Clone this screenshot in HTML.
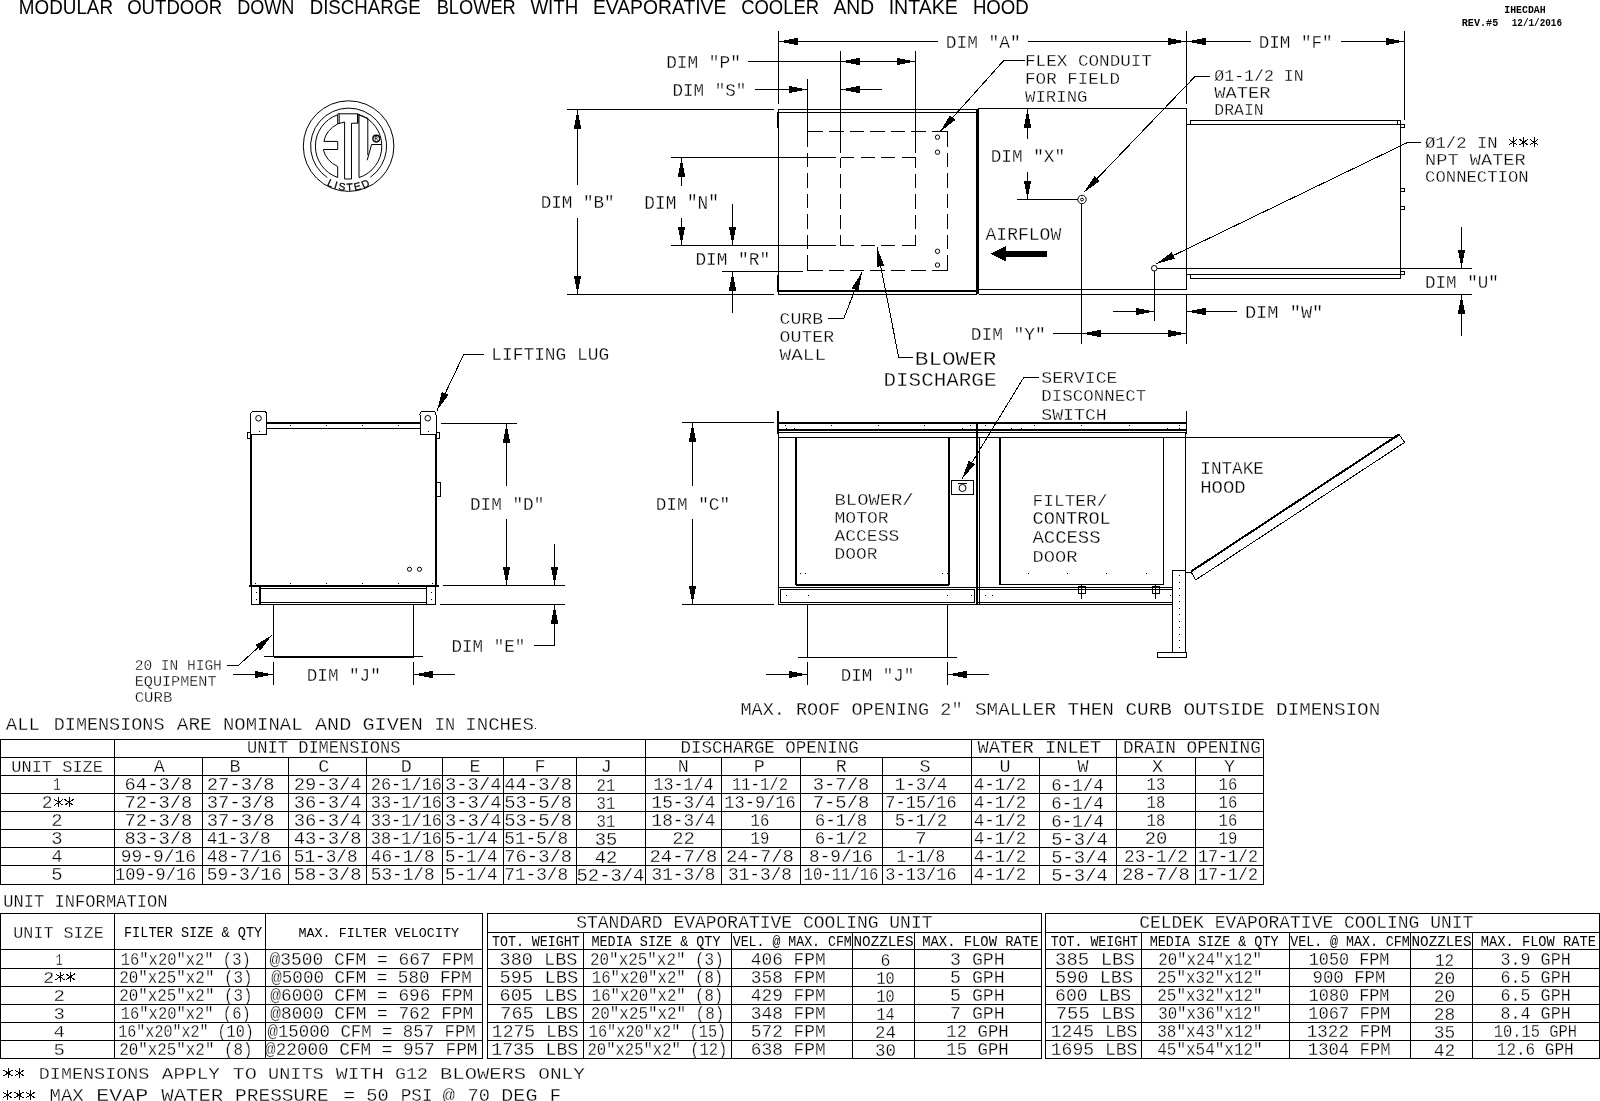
<!DOCTYPE html>
<html><head><meta charset="utf-8"><title>IHECDAH</title>
<style>
html,body{margin:0;padding:0;background:#fff;}
body{width:1600px;height:1101px;overflow:hidden;}
svg{display:block;filter:grayscale(1);}
.m{font-family:"Liberation Mono",monospace;}
.s{font-family:"Liberation Sans",sans-serif;}
</style></head><body>
<svg width="1600" height="1101" viewBox="0 0 1600 1101">
<rect width="1600" height="1101" fill="#fff"/>
<g fill="#000" stroke="#fff" stroke-width="0.3">
<text lengthAdjust="spacingAndGlyphs" class="s" x="18.87" y="13.7" font-size="20.64" textLength="94.15" stroke="none">MODULAR</text>
<text lengthAdjust="spacingAndGlyphs" class="s" x="127.17" y="13.7" font-size="20.64" textLength="95.05" stroke="none">OUTDOOR</text>
<text lengthAdjust="spacingAndGlyphs" class="s" x="237.17" y="13.7" font-size="20.64" textLength="57.25" stroke="none">DOWN</text>
<text lengthAdjust="spacingAndGlyphs" class="s" x="309.67" y="13.7" font-size="20.64" textLength="111.15" stroke="none">DISCHARGE</text>
<text lengthAdjust="spacingAndGlyphs" class="s" x="436.67" y="13.7" font-size="20.64" textLength="79.15" stroke="none">BLOWER</text>
<text lengthAdjust="spacingAndGlyphs" class="s" x="530.42" y="13.7" font-size="20.64" textLength="47.9" stroke="none">WITH</text>
<text lengthAdjust="spacingAndGlyphs" class="s" x="592.92" y="13.7" font-size="20.64" textLength="133.4" stroke="none">EVAPORATIVE</text>
<text lengthAdjust="spacingAndGlyphs" class="s" x="741.17" y="13.7" font-size="20.64" textLength="77.9" stroke="none">COOLER</text>
<text lengthAdjust="spacingAndGlyphs" class="s" x="833.42" y="13.7" font-size="20.64" textLength="40.65" stroke="none">AND</text>
<text lengthAdjust="spacingAndGlyphs" class="s" x="888.67" y="13.7" font-size="20.64" textLength="69.15" stroke="none">INTAKE</text>
<text lengthAdjust="spacingAndGlyphs" class="s" x="972.92" y="13.7" font-size="20.64" textLength="55.9" stroke="none">HOOD</text>
<text lengthAdjust="spacingAndGlyphs" class="m" x="1504.3" y="12.5" font-size="10.02" textLength="41.4" font-weight="bold" stroke="none">IHECDAH</text>
<text lengthAdjust="spacingAndGlyphs" class="m" x="1461.76" y="25.75" font-size="10.63" textLength="36.49" font-weight="bold" stroke="none">REV.#5</text>
<text lengthAdjust="spacingAndGlyphs" class="m" x="1511.76" y="25.75" font-size="10.63" textLength="50.24" font-weight="bold" stroke="none">12/1/2016</text>
<text lengthAdjust="spacingAndGlyphs" class="m" x="945.67" y="47.5" font-size="18.98" textLength="75.16">DIM "A"</text>
<text lengthAdjust="spacingAndGlyphs" class="m" x="1258.67" y="47.5" font-size="18.98" textLength="73.91">DIM "F"</text>
<text lengthAdjust="spacingAndGlyphs" class="m" x="666.17" y="67.5" font-size="18.98" textLength="74.66">DIM "P"</text>
<text lengthAdjust="spacingAndGlyphs" class="m" x="672.42" y="95.75" font-size="18.98" textLength="73.91">DIM "S"</text>
<text lengthAdjust="spacingAndGlyphs" class="m" x="540.67" y="207.5" font-size="18.98" textLength="73.91">DIM "B"</text>
<text lengthAdjust="spacingAndGlyphs" class="m" x="644.37" y="208.75" font-size="19.74" textLength="74.51">DIM "N"</text>
<text lengthAdjust="spacingAndGlyphs" class="m" x="695.42" y="265" font-size="18.98" textLength="74.66">DIM "R"</text>
<text lengthAdjust="spacingAndGlyphs" class="m" x="1025.05" y="66.25" font-size="17.08" textLength="126.89">FLEX CONDUIT</text>
<text lengthAdjust="spacingAndGlyphs" class="m" x="1025.05" y="83.75" font-size="17.08" textLength="94.89">FOR FIELD</text>
<text lengthAdjust="spacingAndGlyphs" class="m" x="1025.05" y="102" font-size="17.08" textLength="62.39">WIRING</text>
<text lengthAdjust="spacingAndGlyphs" class="m" x="990.67" y="161.75" font-size="18.98" textLength="74.41">DIM "X"</text>
<text lengthAdjust="spacingAndGlyphs" class="m" x="1214.3" y="81.25" font-size="17.08" textLength="89.39">Ø1-1/2 IN</text>
<text lengthAdjust="spacingAndGlyphs" class="m" x="1214.38" y="97.5" font-size="15.94" textLength="56.23">WATER</text>
<text lengthAdjust="spacingAndGlyphs" class="m" x="1214.38" y="115" font-size="15.94" textLength="49.23">DRAIN</text>
<text lengthAdjust="spacingAndGlyphs" class="m" x="985.5" y="240" font-size="17.84" textLength="75.75">AIRFLOW</text>
<text lengthAdjust="spacingAndGlyphs" class="m" x="1425.11" y="147.5" font-size="16.32" textLength="72.48">Ø1/2 IN</text>
<text lengthAdjust="spacingAndGlyphs" class="m" x="1425.05" y="164.5" font-size="17.08" textLength="100.64">NPT WATER</text>
<text lengthAdjust="spacingAndGlyphs" class="m" x="1425.05" y="182" font-size="17.08" textLength="103.64">CONNECTION</text>
<text lengthAdjust="spacingAndGlyphs" class="m" x="1424.97" y="287.5" font-size="18.22" textLength="73.8">DIM "U"</text>
<text lengthAdjust="spacingAndGlyphs" class="m" x="1244.92" y="317.5" font-size="18.98" textLength="78.41">DIM "W"</text>
<text lengthAdjust="spacingAndGlyphs" class="m" x="970.67" y="340" font-size="18.98" textLength="75.16">DIM "Y"</text>
<text lengthAdjust="spacingAndGlyphs" class="m" x="779.63" y="323.75" font-size="15.94" textLength="43.48">CURB</text>
<text lengthAdjust="spacingAndGlyphs" class="m" x="779.61" y="342" font-size="16.32" textLength="54.53">OUTER</text>
<text lengthAdjust="spacingAndGlyphs" class="m" x="779.61" y="360" font-size="16.32" textLength="46.53">WALL</text>
<text lengthAdjust="spacingAndGlyphs" class="m" x="914.79" y="365" font-size="20.87" textLength="81.67">BLOWER</text>
<text lengthAdjust="spacingAndGlyphs" class="m" x="883.54" y="385.75" font-size="20.87" textLength="112.92">DISCHARGE</text>
<text lengthAdjust="spacingAndGlyphs" class="m" x="1041.33" y="383" font-size="16.7" textLength="76.09">SERVICE</text>
<text lengthAdjust="spacingAndGlyphs" class="m" x="1041.3" y="401.25" font-size="17.08" textLength="104.89">DISCONNECT</text>
<text lengthAdjust="spacingAndGlyphs" class="m" x="1041.3" y="419.5" font-size="17.08" textLength="65.39">SWITCH</text>
<text lengthAdjust="spacingAndGlyphs" class="m" x="1200.28" y="473.75" font-size="17.46" textLength="63.69">INTAKE</text>
<text lengthAdjust="spacingAndGlyphs" class="m" x="1200.28" y="492.5" font-size="17.46" textLength="45.44">HOOD</text>
<text lengthAdjust="spacingAndGlyphs" class="m" x="834.55" y="505" font-size="17.08" textLength="79.14">BLOWER/</text>
<text lengthAdjust="spacingAndGlyphs" class="m" x="834.55" y="523" font-size="17.08" textLength="54.14">MOTOR</text>
<text lengthAdjust="spacingAndGlyphs" class="m" x="834.55" y="541.25" font-size="17.08" textLength="64.64">ACCESS</text>
<text lengthAdjust="spacingAndGlyphs" class="m" x="834.58" y="559.25" font-size="16.7" textLength="42.84">DOOR</text>
<text lengthAdjust="spacingAndGlyphs" class="m" x="1032.55" y="505.5" font-size="17.08" textLength="74.89">FILTER/</text>
<text lengthAdjust="spacingAndGlyphs" class="m" x="1032.5" y="524.25" font-size="17.84" textLength="78.25">CONTROL</text>
<text lengthAdjust="spacingAndGlyphs" class="m" x="1032.5" y="542.5" font-size="17.84" textLength="68">ACCESS</text>
<text lengthAdjust="spacingAndGlyphs" class="m" x="1032.55" y="561.75" font-size="17.08" textLength="44.89">DOOR</text>
<text lengthAdjust="spacingAndGlyphs" class="m" x="655.67" y="510" font-size="18.98" textLength="74.41">DIM "C"</text>
<text lengthAdjust="spacingAndGlyphs" class="m" x="840.72" y="680.75" font-size="18.22" textLength="73.55">DIM "J"</text>
<text lengthAdjust="spacingAndGlyphs" class="m" x="740.47" y="714.5" font-size="18.22" textLength="222.05">MAX. ROOF OPENING 2"</text>
<text lengthAdjust="spacingAndGlyphs" class="m" x="974.97" y="714.5" font-size="18.22" textLength="405.3">SMALLER THEN CURB OUTSIDE DIMENSION</text>
<text lengthAdjust="spacingAndGlyphs" class="m" x="491.22" y="360" font-size="18.22" textLength="118.05">LIFTING LUG</text>
<text lengthAdjust="spacingAndGlyphs" class="m" x="469.92" y="509.5" font-size="18.98" textLength="74.41">DIM "D"</text>
<text lengthAdjust="spacingAndGlyphs" class="m" x="451.47" y="651.8" font-size="18.98" textLength="73.86">DIM "E"</text>
<text lengthAdjust="spacingAndGlyphs" class="m" x="306.72" y="680.75" font-size="18.22" textLength="74.05">DIM "J"</text>
<text lengthAdjust="spacingAndGlyphs" class="m" x="134.69" y="670" font-size="15.18" textLength="87.13">20 IN HIGH</text>
<text lengthAdjust="spacingAndGlyphs" class="m" x="134.69" y="685.75" font-size="15.18" textLength="81.88">EQUIPMENT</text>
<text lengthAdjust="spacingAndGlyphs" class="m" x="134.69" y="701.75" font-size="15.18" textLength="37.63">CURB</text>
<text lengthAdjust="spacingAndGlyphs" class="m" x="5.72" y="729.5" font-size="18.22" textLength="34.3">ALL</text>
<text lengthAdjust="spacingAndGlyphs" class="m" x="53.72" y="729.5" font-size="18.22" textLength="110.8">DIMENSIONS</text>
<text lengthAdjust="spacingAndGlyphs" class="m" x="176.72" y="729.5" font-size="18.22" textLength="35.05">ARE</text>
<text lengthAdjust="spacingAndGlyphs" class="m" x="222.97" y="729.5" font-size="18.22" textLength="79.55">NOMINAL</text>
<text lengthAdjust="spacingAndGlyphs" class="m" x="314.97" y="729.5" font-size="18.22" textLength="36.3">AND</text>
<text lengthAdjust="spacingAndGlyphs" class="m" x="362.52" y="729.5" font-size="18.22" textLength="60.35">GIVEN</text>
<text lengthAdjust="spacingAndGlyphs" class="m" x="434.72" y="729.5" font-size="18.22" textLength="20.35">IN</text>
<text lengthAdjust="spacingAndGlyphs" class="m" x="465.32" y="729.5" font-size="18.22" textLength="68.55">INCHES</text>
<text lengthAdjust="spacingAndGlyphs" class="m" x="246.97" y="753.25" font-size="18.22" textLength="153.55">UNIT DIMENSIONS</text>
<text lengthAdjust="spacingAndGlyphs" class="m" x="680.47" y="753.25" font-size="18.22" textLength="178.3">DISCHARGE OPENING</text>
<text lengthAdjust="spacingAndGlyphs" class="m" x="977.47" y="753.25" font-size="18.22" textLength="123.8">WATER INLET</text>
<text lengthAdjust="spacingAndGlyphs" class="m" x="1122.97" y="753.25" font-size="18.22" textLength="137.8">DRAIN OPENING</text>
<text lengthAdjust="spacingAndGlyphs" class="m" x="11.3" y="772" font-size="17.08" textLength="91.64">UNIT SIZE</text>
<text lengthAdjust="spacingAndGlyphs" class="m" x="153.72" y="772" font-size="18.22" textLength="11.05">A</text>
<text lengthAdjust="spacingAndGlyphs" class="m" x="229.47" y="772" font-size="18.22" textLength="11.05">B</text>
<text lengthAdjust="spacingAndGlyphs" class="m" x="318.22" y="772" font-size="18.22" textLength="11.05">C</text>
<text lengthAdjust="spacingAndGlyphs" class="m" x="400.72" y="772" font-size="18.22" textLength="11.05">D</text>
<text lengthAdjust="spacingAndGlyphs" class="m" x="469.47" y="772" font-size="18.22" textLength="11.05">E</text>
<text lengthAdjust="spacingAndGlyphs" class="m" x="534.47" y="772" font-size="18.22" textLength="11.05">F</text>
<text lengthAdjust="spacingAndGlyphs" class="m" x="600.72" y="772" font-size="18.22" textLength="11.05">J</text>
<text lengthAdjust="spacingAndGlyphs" class="m" x="677.72" y="772" font-size="18.22" textLength="11.05">N</text>
<text lengthAdjust="spacingAndGlyphs" class="m" x="753.72" y="772" font-size="18.22" textLength="11.05">P</text>
<text lengthAdjust="spacingAndGlyphs" class="m" x="835.72" y="772" font-size="18.22" textLength="11.05">R</text>
<text lengthAdjust="spacingAndGlyphs" class="m" x="919.47" y="772" font-size="18.22" textLength="11.05">S</text>
<text lengthAdjust="spacingAndGlyphs" class="m" x="999.47" y="772" font-size="18.22" textLength="11.05">U</text>
<text lengthAdjust="spacingAndGlyphs" class="m" x="1077.47" y="772" font-size="18.22" textLength="11.05">W</text>
<text lengthAdjust="spacingAndGlyphs" class="m" x="1151.97" y="772" font-size="18.22" textLength="11.05">X</text>
<text lengthAdjust="spacingAndGlyphs" class="m" x="1223.97" y="772" font-size="18.22" textLength="11.05">Y</text>
<text lengthAdjust="spacingAndGlyphs" class="m" x="53.27" y="790" font-size="18.22" textLength="7.45">1</text>
<text lengthAdjust="spacingAndGlyphs" class="m" x="124.57" y="790" font-size="18.22" textLength="67.85">64-3/8</text>
<text lengthAdjust="spacingAndGlyphs" class="m" x="206.72" y="790" font-size="18.22" textLength="67.85">27-3/8</text>
<text lengthAdjust="spacingAndGlyphs" class="m" x="293.72" y="790" font-size="18.22" textLength="67.85">29-3/4</text>
<text lengthAdjust="spacingAndGlyphs" class="m" x="370.72" y="790" font-size="18.22" textLength="71.35">26-1/16</text>
<text lengthAdjust="spacingAndGlyphs" class="m" x="444.97" y="790" font-size="18.22" textLength="56.55">3-3/4</text>
<text lengthAdjust="spacingAndGlyphs" class="m" x="504.22" y="790" font-size="18.22" textLength="67.85">44-3/8</text>
<text lengthAdjust="spacingAndGlyphs" class="m" x="596.62" y="791" font-size="18.22" textLength="18.75">21</text>
<text lengthAdjust="spacingAndGlyphs" class="m" x="653.47" y="790" font-size="18.22" textLength="60.05">13-1/4</text>
<text lengthAdjust="spacingAndGlyphs" class="m" x="731.92" y="790" font-size="18.22" textLength="56.15">11-1/2</text>
<text lengthAdjust="spacingAndGlyphs" class="m" x="812.72" y="790" font-size="18.22" textLength="56.55">3-7/8</text>
<text lengthAdjust="spacingAndGlyphs" class="m" x="894.67" y="790" font-size="18.22" textLength="52.65">1-3/4</text>
<text lengthAdjust="spacingAndGlyphs" class="m" x="973.72" y="790" font-size="18.22" textLength="52.65">4-1/2</text>
<text lengthAdjust="spacingAndGlyphs" class="m" x="1051.22" y="791" font-size="18.22" textLength="52.65">6-1/4</text>
<text lengthAdjust="spacingAndGlyphs" class="m" x="1146.62" y="790" font-size="18.22" textLength="18.75">13</text>
<text lengthAdjust="spacingAndGlyphs" class="m" x="1218.62" y="790" font-size="18.22" textLength="18.75">16</text>
<text lengthAdjust="spacingAndGlyphs" class="m" x="41.72" y="808" font-size="18.22" textLength="10.8">2</text>
<text lengthAdjust="spacingAndGlyphs" class="m" x="124.57" y="808" font-size="18.22" textLength="67.85">72-3/8</text>
<text lengthAdjust="spacingAndGlyphs" class="m" x="206.72" y="808" font-size="18.22" textLength="67.85">37-3/8</text>
<text lengthAdjust="spacingAndGlyphs" class="m" x="293.72" y="808" font-size="18.22" textLength="67.85">36-3/4</text>
<text lengthAdjust="spacingAndGlyphs" class="m" x="370.72" y="808" font-size="18.22" textLength="71.35">33-1/16</text>
<text lengthAdjust="spacingAndGlyphs" class="m" x="444.97" y="808" font-size="18.22" textLength="56.55">3-3/4</text>
<text lengthAdjust="spacingAndGlyphs" class="m" x="504.22" y="808" font-size="18.22" textLength="67.85">53-5/8</text>
<text lengthAdjust="spacingAndGlyphs" class="m" x="596.62" y="809" font-size="18.22" textLength="18.75">31</text>
<text lengthAdjust="spacingAndGlyphs" class="m" x="651.52" y="808" font-size="18.22" textLength="63.95">15-3/4</text>
<text lengthAdjust="spacingAndGlyphs" class="m" x="724.32" y="808" font-size="18.22" textLength="71.35">13-9/16</text>
<text lengthAdjust="spacingAndGlyphs" class="m" x="812.72" y="808" font-size="18.22" textLength="56.55">7-5/8</text>
<text lengthAdjust="spacingAndGlyphs" class="m" x="885.32" y="808" font-size="18.22" textLength="71.35">7-15/16</text>
<text lengthAdjust="spacingAndGlyphs" class="m" x="973.72" y="808" font-size="18.22" textLength="52.65">4-1/2</text>
<text lengthAdjust="spacingAndGlyphs" class="m" x="1051.22" y="809" font-size="18.22" textLength="52.65">6-1/4</text>
<text lengthAdjust="spacingAndGlyphs" class="m" x="1146.62" y="808" font-size="18.22" textLength="18.75">18</text>
<text lengthAdjust="spacingAndGlyphs" class="m" x="1218.62" y="808" font-size="18.22" textLength="18.75">16</text>
<text lengthAdjust="spacingAndGlyphs" class="m" x="51.32" y="826" font-size="18.22" textLength="11.35">2</text>
<text lengthAdjust="spacingAndGlyphs" class="m" x="124.57" y="826" font-size="18.22" textLength="67.85">72-3/8</text>
<text lengthAdjust="spacingAndGlyphs" class="m" x="206.72" y="826" font-size="18.22" textLength="67.85">37-3/8</text>
<text lengthAdjust="spacingAndGlyphs" class="m" x="293.72" y="826" font-size="18.22" textLength="67.85">36-3/4</text>
<text lengthAdjust="spacingAndGlyphs" class="m" x="370.72" y="826" font-size="18.22" textLength="71.35">33-1/16</text>
<text lengthAdjust="spacingAndGlyphs" class="m" x="444.97" y="826" font-size="18.22" textLength="56.55">3-3/4</text>
<text lengthAdjust="spacingAndGlyphs" class="m" x="504.22" y="826" font-size="18.22" textLength="67.85">53-5/8</text>
<text lengthAdjust="spacingAndGlyphs" class="m" x="596.62" y="827" font-size="18.22" textLength="18.75">31</text>
<text lengthAdjust="spacingAndGlyphs" class="m" x="651.52" y="826" font-size="18.22" textLength="63.95">18-3/4</text>
<text lengthAdjust="spacingAndGlyphs" class="m" x="750.62" y="826" font-size="18.22" textLength="18.75">16</text>
<text lengthAdjust="spacingAndGlyphs" class="m" x="814.67" y="826" font-size="18.22" textLength="52.65">6-1/8</text>
<text lengthAdjust="spacingAndGlyphs" class="m" x="894.67" y="826" font-size="18.22" textLength="52.65">5-1/2</text>
<text lengthAdjust="spacingAndGlyphs" class="m" x="973.72" y="826" font-size="18.22" textLength="52.65">4-1/2</text>
<text lengthAdjust="spacingAndGlyphs" class="m" x="1051.22" y="827" font-size="18.22" textLength="52.65">6-1/4</text>
<text lengthAdjust="spacingAndGlyphs" class="m" x="1146.62" y="826" font-size="18.22" textLength="18.75">18</text>
<text lengthAdjust="spacingAndGlyphs" class="m" x="1218.62" y="826" font-size="18.22" textLength="18.75">16</text>
<text lengthAdjust="spacingAndGlyphs" class="m" x="51.32" y="844" font-size="18.22" textLength="11.35">3</text>
<text lengthAdjust="spacingAndGlyphs" class="m" x="124.57" y="844" font-size="18.22" textLength="67.85">83-3/8</text>
<text lengthAdjust="spacingAndGlyphs" class="m" x="206.72" y="844" font-size="18.22" textLength="63.95">41-3/8</text>
<text lengthAdjust="spacingAndGlyphs" class="m" x="293.72" y="844" font-size="18.22" textLength="67.85">43-3/8</text>
<text lengthAdjust="spacingAndGlyphs" class="m" x="370.72" y="844" font-size="18.22" textLength="71.35">38-1/16</text>
<text lengthAdjust="spacingAndGlyphs" class="m" x="444.97" y="844" font-size="18.22" textLength="52.65">5-1/4</text>
<text lengthAdjust="spacingAndGlyphs" class="m" x="504.22" y="844" font-size="18.22" textLength="63.95">51-5/8</text>
<text lengthAdjust="spacingAndGlyphs" class="m" x="594.67" y="845" font-size="18.22" textLength="22.65">35</text>
<text lengthAdjust="spacingAndGlyphs" class="m" x="672.17" y="844" font-size="18.22" textLength="22.65">22</text>
<text lengthAdjust="spacingAndGlyphs" class="m" x="750.62" y="844" font-size="18.22" textLength="18.75">19</text>
<text lengthAdjust="spacingAndGlyphs" class="m" x="814.67" y="844" font-size="18.22" textLength="52.65">6-1/2</text>
<text lengthAdjust="spacingAndGlyphs" class="m" x="915.32" y="844" font-size="18.22" textLength="11.35">7</text>
<text lengthAdjust="spacingAndGlyphs" class="m" x="973.72" y="844" font-size="18.22" textLength="52.65">4-1/2</text>
<text lengthAdjust="spacingAndGlyphs" class="m" x="1051.22" y="845" font-size="18.22" textLength="56.55">5-3/4</text>
<text lengthAdjust="spacingAndGlyphs" class="m" x="1144.67" y="844" font-size="18.22" textLength="22.65">20</text>
<text lengthAdjust="spacingAndGlyphs" class="m" x="1218.62" y="844" font-size="18.22" textLength="18.75">19</text>
<text lengthAdjust="spacingAndGlyphs" class="m" x="51.32" y="862" font-size="18.22" textLength="11.35">4</text>
<text lengthAdjust="spacingAndGlyphs" class="m" x="120.87" y="862" font-size="18.22" textLength="75.25">99-9/16</text>
<text lengthAdjust="spacingAndGlyphs" class="m" x="206.72" y="862" font-size="18.22" textLength="75.25">48-7/16</text>
<text lengthAdjust="spacingAndGlyphs" class="m" x="293.72" y="862" font-size="18.22" textLength="63.95">51-3/8</text>
<text lengthAdjust="spacingAndGlyphs" class="m" x="370.72" y="862" font-size="18.22" textLength="63.95">46-1/8</text>
<text lengthAdjust="spacingAndGlyphs" class="m" x="444.97" y="862" font-size="18.22" textLength="52.65">5-1/4</text>
<text lengthAdjust="spacingAndGlyphs" class="m" x="504.22" y="862" font-size="18.22" textLength="67.85">76-3/8</text>
<text lengthAdjust="spacingAndGlyphs" class="m" x="594.67" y="863" font-size="18.22" textLength="22.65">42</text>
<text lengthAdjust="spacingAndGlyphs" class="m" x="649.57" y="862" font-size="18.22" textLength="67.85">24-7/8</text>
<text lengthAdjust="spacingAndGlyphs" class="m" x="726.07" y="862" font-size="18.22" textLength="67.85">24-7/8</text>
<text lengthAdjust="spacingAndGlyphs" class="m" x="809.02" y="862" font-size="18.22" textLength="63.95">8-9/16</text>
<text lengthAdjust="spacingAndGlyphs" class="m" x="896.62" y="862" font-size="18.22" textLength="48.75">1-1/8</text>
<text lengthAdjust="spacingAndGlyphs" class="m" x="973.72" y="862" font-size="18.22" textLength="52.65">4-1/2</text>
<text lengthAdjust="spacingAndGlyphs" class="m" x="1051.22" y="863" font-size="18.22" textLength="56.55">5-3/4</text>
<text lengthAdjust="spacingAndGlyphs" class="m" x="1124.02" y="862" font-size="18.22" textLength="63.95">23-1/2</text>
<text lengthAdjust="spacingAndGlyphs" class="m" x="1197.97" y="862" font-size="18.22" textLength="60.05">17-1/2</text>
<text lengthAdjust="spacingAndGlyphs" class="m" x="51.32" y="880" font-size="18.22" textLength="11.35">5</text>
<text lengthAdjust="spacingAndGlyphs" class="m" x="114.97" y="880" font-size="18.22" textLength="81.3">109-9/16</text>
<text lengthAdjust="spacingAndGlyphs" class="m" x="206.72" y="880" font-size="18.22" textLength="75.25">59-3/16</text>
<text lengthAdjust="spacingAndGlyphs" class="m" x="293.72" y="880" font-size="18.22" textLength="67.85">58-3/8</text>
<text lengthAdjust="spacingAndGlyphs" class="m" x="370.72" y="880" font-size="18.22" textLength="63.95">53-1/8</text>
<text lengthAdjust="spacingAndGlyphs" class="m" x="444.97" y="880" font-size="18.22" textLength="52.65">5-1/4</text>
<text lengthAdjust="spacingAndGlyphs" class="m" x="504.22" y="880" font-size="18.22" textLength="63.95">71-3/8</text>
<text lengthAdjust="spacingAndGlyphs" class="m" x="576.57" y="881" font-size="18.22" textLength="67.85">52-3/4</text>
<text lengthAdjust="spacingAndGlyphs" class="m" x="651.52" y="880" font-size="18.22" textLength="63.95">31-3/8</text>
<text lengthAdjust="spacingAndGlyphs" class="m" x="728.02" y="880" font-size="18.22" textLength="63.95">31-3/8</text>
<text lengthAdjust="spacingAndGlyphs" class="m" x="803.57" y="880" font-size="18.22" textLength="74.85">10-11/16</text>
<text lengthAdjust="spacingAndGlyphs" class="m" x="885.32" y="880" font-size="18.22" textLength="71.35">3-13/16</text>
<text lengthAdjust="spacingAndGlyphs" class="m" x="973.72" y="880" font-size="18.22" textLength="52.65">4-1/2</text>
<text lengthAdjust="spacingAndGlyphs" class="m" x="1051.22" y="881" font-size="18.22" textLength="56.55">5-3/4</text>
<text lengthAdjust="spacingAndGlyphs" class="m" x="1122.07" y="880" font-size="18.22" textLength="67.85">28-7/8</text>
<text lengthAdjust="spacingAndGlyphs" class="m" x="1197.97" y="880" font-size="18.22" textLength="60.05">17-1/2</text>
<text lengthAdjust="spacingAndGlyphs" class="m" x="3.28" y="907" font-size="17.46" textLength="164.19">UNIT INFORMATION</text>
<text lengthAdjust="spacingAndGlyphs" class="m" x="13.3" y="937.5" font-size="17.08" textLength="90.39">UNIT SIZE</text>
<text lengthAdjust="spacingAndGlyphs" class="m" x="123.99" y="937" font-size="14.42" textLength="138.27" stroke="none">FILTER SIZE &amp; QTY</text>
<text lengthAdjust="spacingAndGlyphs" class="m" x="298.54" y="937" font-size="13.66" textLength="160.41" stroke="none">MAX. FILTER VELOCITY</text>
<text lengthAdjust="spacingAndGlyphs" class="m" x="576.22" y="928.25" font-size="18.22" textLength="356.3">STANDARD EVAPORATIVE COOLING UNIT</text>
<text lengthAdjust="spacingAndGlyphs" class="m" x="1139.22" y="928.25" font-size="18.22" textLength="334.05">CELDEK EVAPORATIVE COOLING UNIT</text>
<text lengthAdjust="spacingAndGlyphs" class="m" x="491.99" y="945.75" font-size="14.42" textLength="87.77" stroke="none">TOT. WEIGHT</text>
<text lengthAdjust="spacingAndGlyphs" class="m" x="591.49" y="945.75" font-size="14.42" textLength="129.02" stroke="none">MEDIA SIZE &amp; QTY</text>
<text lengthAdjust="spacingAndGlyphs" class="m" x="732.74" y="945.75" font-size="14.42" textLength="119.02" stroke="none">VEL. @ MAX. CFM</text>
<text lengthAdjust="spacingAndGlyphs" class="m" x="853.49" y="945.75" font-size="14.42" textLength="60.02" stroke="none">NOZZLES</text>
<text lengthAdjust="spacingAndGlyphs" class="m" x="922.24" y="945.75" font-size="14.42" textLength="116.27" stroke="none">MAX. FLOW RATE</text>
<text lengthAdjust="spacingAndGlyphs" class="m" x="1050.74" y="945.75" font-size="14.42" textLength="87.27" stroke="none">TOT. WEIGHT</text>
<text lengthAdjust="spacingAndGlyphs" class="m" x="1149.74" y="945.75" font-size="14.42" textLength="128.77" stroke="none">MEDIA SIZE &amp; QTY</text>
<text lengthAdjust="spacingAndGlyphs" class="m" x="1290.24" y="945.75" font-size="14.42" textLength="119.52" stroke="none">VEL. @ MAX. CFM</text>
<text lengthAdjust="spacingAndGlyphs" class="m" x="1411.49" y="945.75" font-size="14.42" textLength="60.02" stroke="none">NOZZLES</text>
<text lengthAdjust="spacingAndGlyphs" class="m" x="1480.74" y="945.75" font-size="14.42" textLength="115.27" stroke="none">MAX. FLOW RATE</text>
<text lengthAdjust="spacingAndGlyphs" class="m" x="55.8" y="964.5" font-size="17.08" textLength="6.89">1</text>
<text lengthAdjust="spacingAndGlyphs" class="m" x="120.78" y="964.5" font-size="17.46" textLength="129.94">16"x20"x2" (3)</text>
<text lengthAdjust="spacingAndGlyphs" class="m" x="269.53" y="964.5" font-size="17.46" textLength="204.19">@3500 CFM = 667 FPM</text>
<text lengthAdjust="spacingAndGlyphs" class="m" x="499.53" y="964.5" font-size="17.46" textLength="77.94">380 LBS</text>
<text lengthAdjust="spacingAndGlyphs" class="m" x="590.03" y="964.5" font-size="17.46" textLength="133.69">20"x25"x2" (3)</text>
<text lengthAdjust="spacingAndGlyphs" class="m" x="1055.03" y="964.5" font-size="17.46" textLength="79.94">385 LBS</text>
<text lengthAdjust="spacingAndGlyphs" class="m" x="1308.78" y="964.5" font-size="17.46" textLength="80.69">1050 FPM</text>
<text lengthAdjust="spacingAndGlyphs" class="m" x="1500.53" y="964.5" font-size="17.46" textLength="70.19">3.9 GPH</text>
<text lengthAdjust="spacingAndGlyphs" class="m" x="750.78" y="964.5" font-size="17.46" textLength="74.94">406 FPM</text>
<text lengthAdjust="spacingAndGlyphs" class="m" x="880.53" y="965.5" font-size="17.46" textLength="9.94">6</text>
<text lengthAdjust="spacingAndGlyphs" class="m" x="950.03" y="964.5" font-size="17.46" textLength="54.69">3 GPH</text>
<text lengthAdjust="spacingAndGlyphs" class="m" x="1158.28" y="964.5" font-size="17.46" textLength="103.69">20"x24"x12"</text>
<text lengthAdjust="spacingAndGlyphs" class="m" x="1434.9" y="965.5" font-size="17.46" textLength="19.19">12</text>
<text lengthAdjust="spacingAndGlyphs" class="m" x="43.3" y="982.5" font-size="17.08" textLength="10.89">2</text>
<text lengthAdjust="spacingAndGlyphs" class="m" x="119.28" y="982.5" font-size="17.46" textLength="133.19">20"x25"x2" (3)</text>
<text lengthAdjust="spacingAndGlyphs" class="m" x="271.28" y="982.5" font-size="17.46" textLength="200.44">@5000 CFM = 580 FPM</text>
<text lengthAdjust="spacingAndGlyphs" class="m" x="499.53" y="982.5" font-size="17.46" textLength="78.69">595 LBS</text>
<text lengthAdjust="spacingAndGlyphs" class="m" x="591.78" y="982.5" font-size="17.46" textLength="131.44">16"x20"x2" (8)</text>
<text lengthAdjust="spacingAndGlyphs" class="m" x="1055.03" y="982.5" font-size="17.46" textLength="78.19">590 LBS</text>
<text lengthAdjust="spacingAndGlyphs" class="m" x="1312.53" y="982.5" font-size="17.46" textLength="72.94">900 FPM</text>
<text lengthAdjust="spacingAndGlyphs" class="m" x="1500.53" y="982.5" font-size="17.46" textLength="70.19">6.5 GPH</text>
<text lengthAdjust="spacingAndGlyphs" class="m" x="750.78" y="982.5" font-size="17.46" textLength="74.94">358 FPM</text>
<text lengthAdjust="spacingAndGlyphs" class="m" x="876.4" y="983.5" font-size="17.46" textLength="18.19">10</text>
<text lengthAdjust="spacingAndGlyphs" class="m" x="950.03" y="982.5" font-size="17.46" textLength="54.69">5 GPH</text>
<text lengthAdjust="spacingAndGlyphs" class="m" x="1157.28" y="982.5" font-size="17.46" textLength="105.44">25"x32"x12"</text>
<text lengthAdjust="spacingAndGlyphs" class="m" x="1433.78" y="983.5" font-size="17.46" textLength="21.44">20</text>
<text lengthAdjust="spacingAndGlyphs" class="m" x="53.55" y="1000.5" font-size="17.08" textLength="11.39">2</text>
<text lengthAdjust="spacingAndGlyphs" class="m" x="119.28" y="1000.5" font-size="17.46" textLength="133.19">20"x25"x2" (3)</text>
<text lengthAdjust="spacingAndGlyphs" class="m" x="270.28" y="1000.5" font-size="17.46" textLength="202.94">@6000 CFM = 696 FPM</text>
<text lengthAdjust="spacingAndGlyphs" class="m" x="499.53" y="1000.5" font-size="17.46" textLength="77.94">605 LBS</text>
<text lengthAdjust="spacingAndGlyphs" class="m" x="591.78" y="1000.5" font-size="17.46" textLength="131.44">16"x20"x2" (8)</text>
<text lengthAdjust="spacingAndGlyphs" class="m" x="1055.03" y="1000.5" font-size="17.46" textLength="76.19">600 LBS</text>
<text lengthAdjust="spacingAndGlyphs" class="m" x="1308.78" y="1000.5" font-size="17.46" textLength="80.69">1080 FPM</text>
<text lengthAdjust="spacingAndGlyphs" class="m" x="1500.53" y="1000.5" font-size="17.46" textLength="70.19">6.5 GPH</text>
<text lengthAdjust="spacingAndGlyphs" class="m" x="750.78" y="1000.5" font-size="17.46" textLength="74.94">429 FPM</text>
<text lengthAdjust="spacingAndGlyphs" class="m" x="876.4" y="1001.5" font-size="17.46" textLength="18.19">10</text>
<text lengthAdjust="spacingAndGlyphs" class="m" x="950.03" y="1000.5" font-size="17.46" textLength="54.69">5 GPH</text>
<text lengthAdjust="spacingAndGlyphs" class="m" x="1157.28" y="1000.5" font-size="17.46" textLength="105.44">25"x32"x12"</text>
<text lengthAdjust="spacingAndGlyphs" class="m" x="1433.78" y="1001.5" font-size="17.46" textLength="21.44">20</text>
<text lengthAdjust="spacingAndGlyphs" class="m" x="53.55" y="1018.5" font-size="17.08" textLength="11.39">3</text>
<text lengthAdjust="spacingAndGlyphs" class="m" x="120.78" y="1018.5" font-size="17.46" textLength="129.94">16"x20"x2" (6)</text>
<text lengthAdjust="spacingAndGlyphs" class="m" x="270.28" y="1018.5" font-size="17.46" textLength="202.94">@8000 CFM = 762 FPM</text>
<text lengthAdjust="spacingAndGlyphs" class="m" x="500.28" y="1018.5" font-size="17.46" textLength="77.94">765 LBS</text>
<text lengthAdjust="spacingAndGlyphs" class="m" x="590.78" y="1018.5" font-size="17.46" textLength="133.44">20"x25"x2" (8)</text>
<text lengthAdjust="spacingAndGlyphs" class="m" x="1055.78" y="1018.5" font-size="17.46" textLength="79.19">755 LBS</text>
<text lengthAdjust="spacingAndGlyphs" class="m" x="1308.28" y="1018.5" font-size="17.46" textLength="81.94">1067 FPM</text>
<text lengthAdjust="spacingAndGlyphs" class="m" x="1500.53" y="1018.5" font-size="17.46" textLength="70.19">8.4 GPH</text>
<text lengthAdjust="spacingAndGlyphs" class="m" x="750.78" y="1018.5" font-size="17.46" textLength="74.94">348 FPM</text>
<text lengthAdjust="spacingAndGlyphs" class="m" x="876.4" y="1019.5" font-size="17.46" textLength="18.19">14</text>
<text lengthAdjust="spacingAndGlyphs" class="m" x="950.03" y="1018.5" font-size="17.46" textLength="54.69">7 GPH</text>
<text lengthAdjust="spacingAndGlyphs" class="m" x="1158.28" y="1018.5" font-size="17.46" textLength="103.69">30"x36"x12"</text>
<text lengthAdjust="spacingAndGlyphs" class="m" x="1433.78" y="1019.5" font-size="17.46" textLength="21.44">28</text>
<text lengthAdjust="spacingAndGlyphs" class="m" x="53.55" y="1036.5" font-size="17.08" textLength="11.39">4</text>
<text lengthAdjust="spacingAndGlyphs" class="m" x="118.28" y="1036.5" font-size="17.46" textLength="135.44">16"x20"x2" (10)</text>
<text lengthAdjust="spacingAndGlyphs" class="m" x="267.53" y="1036.5" font-size="17.46" textLength="208.19">@15000 CFM = 857 FPM</text>
<text lengthAdjust="spacingAndGlyphs" class="m" x="491.78" y="1036.5" font-size="17.46" textLength="86.94">1275 LBS</text>
<text lengthAdjust="spacingAndGlyphs" class="m" x="588.78" y="1036.5" font-size="17.46" textLength="137.44">16"x20"x2" (15)</text>
<text lengthAdjust="spacingAndGlyphs" class="m" x="1050.78" y="1036.5" font-size="17.46" textLength="86.69">1245 LBS</text>
<text lengthAdjust="spacingAndGlyphs" class="m" x="1306.78" y="1036.5" font-size="17.46" textLength="84.44">1322 FPM</text>
<text lengthAdjust="spacingAndGlyphs" class="m" x="1493.78" y="1036.5" font-size="17.46" textLength="83.19">10.15 GPH</text>
<text lengthAdjust="spacingAndGlyphs" class="m" x="750.78" y="1036.5" font-size="17.46" textLength="74.94">572 FPM</text>
<text lengthAdjust="spacingAndGlyphs" class="m" x="875.03" y="1037.5" font-size="17.46" textLength="20.94">24</text>
<text lengthAdjust="spacingAndGlyphs" class="m" x="946.28" y="1036.5" font-size="17.46" textLength="62.44">12 GPH</text>
<text lengthAdjust="spacingAndGlyphs" class="m" x="1157.28" y="1036.5" font-size="17.46" textLength="105.44">38"x43"x12"</text>
<text lengthAdjust="spacingAndGlyphs" class="m" x="1433.78" y="1037.5" font-size="17.46" textLength="21.44">35</text>
<text lengthAdjust="spacingAndGlyphs" class="m" x="53.55" y="1054.5" font-size="17.08" textLength="11.39">5</text>
<text lengthAdjust="spacingAndGlyphs" class="m" x="119.28" y="1054.5" font-size="17.46" textLength="133.19">20"x25"x2" (8)</text>
<text lengthAdjust="spacingAndGlyphs" class="m" x="265.03" y="1054.5" font-size="17.46" textLength="212.44">@22000 CFM = 957 FPM</text>
<text lengthAdjust="spacingAndGlyphs" class="m" x="491.28" y="1054.5" font-size="17.46" textLength="86.94">1735 LBS</text>
<text lengthAdjust="spacingAndGlyphs" class="m" x="587.53" y="1054.5" font-size="17.46" textLength="139.94">20"x25"x2" (12)</text>
<text lengthAdjust="spacingAndGlyphs" class="m" x="1050.78" y="1054.5" font-size="17.46" textLength="86.69">1695 LBS</text>
<text lengthAdjust="spacingAndGlyphs" class="m" x="1307.78" y="1054.5" font-size="17.46" textLength="82.94">1304 FPM</text>
<text lengthAdjust="spacingAndGlyphs" class="m" x="1496.78" y="1054.5" font-size="17.46" textLength="76.94">12.6 GPH</text>
<text lengthAdjust="spacingAndGlyphs" class="m" x="750.78" y="1054.5" font-size="17.46" textLength="74.94">638 FPM</text>
<text lengthAdjust="spacingAndGlyphs" class="m" x="875.03" y="1055.5" font-size="17.46" textLength="20.94">30</text>
<text lengthAdjust="spacingAndGlyphs" class="m" x="946.28" y="1054.5" font-size="17.46" textLength="62.44">15 GPH</text>
<text lengthAdjust="spacingAndGlyphs" class="m" x="1157.28" y="1054.5" font-size="17.46" textLength="105.44">45"x54"x12"</text>
<text lengthAdjust="spacingAndGlyphs" class="m" x="1433.78" y="1055.5" font-size="17.46" textLength="21.44">42</text>
<text lengthAdjust="spacingAndGlyphs" class="m" x="38.8" y="1078.75" font-size="17.08" textLength="110.64">DIMENSIONS</text>
<text lengthAdjust="spacingAndGlyphs" class="m" x="161.8" y="1078.75" font-size="17.08" textLength="58.14">APPLY</text>
<text lengthAdjust="spacingAndGlyphs" class="m" x="232.55" y="1078.75" font-size="17.08" textLength="24.39">TO</text>
<text lengthAdjust="spacingAndGlyphs" class="m" x="268.05" y="1078.75" font-size="17.08" textLength="55.64">UNITS</text>
<text lengthAdjust="spacingAndGlyphs" class="m" x="335.8" y="1078.75" font-size="17.08" textLength="47.89">WITH</text>
<text lengthAdjust="spacingAndGlyphs" class="m" x="395.05" y="1078.75" font-size="17.08" textLength="32.89">G12</text>
<text lengthAdjust="spacingAndGlyphs" class="m" x="440.05" y="1078.75" font-size="17.08" textLength="86.14">BLOWERS</text>
<text lengthAdjust="spacingAndGlyphs" class="m" x="538.3" y="1078.75" font-size="17.08" textLength="46.64">ONLY</text>
<text lengthAdjust="spacingAndGlyphs" class="m" x="49.53" y="1100.5" font-size="17.46" textLength="34.19">MAX</text>
<text lengthAdjust="spacingAndGlyphs" class="m" x="96.28" y="1100.5" font-size="17.46" textLength="51.94">EVAP</text>
<text lengthAdjust="spacingAndGlyphs" class="m" x="161.28" y="1100.5" font-size="17.46" textLength="61.94">WATER</text>
<text lengthAdjust="spacingAndGlyphs" class="m" x="235.03" y="1100.5" font-size="17.46" textLength="93.69">PRESSURE</text>
<text lengthAdjust="spacingAndGlyphs" class="m" x="343.28" y="1100.5" font-size="17.46" textLength="11.94">=</text>
<text lengthAdjust="spacingAndGlyphs" class="m" x="366.28" y="1100.5" font-size="17.46" textLength="22.44">50</text>
<text lengthAdjust="spacingAndGlyphs" class="m" x="400.78" y="1100.5" font-size="17.46" textLength="31.69">PSI</text>
<text lengthAdjust="spacingAndGlyphs" class="m" x="442.53" y="1100.5" font-size="17.46" textLength="12.44">@</text>
<text lengthAdjust="spacingAndGlyphs" class="m" x="467.53" y="1100.5" font-size="17.46" textLength="22.44">70</text>
<text lengthAdjust="spacingAndGlyphs" class="m" x="501.28" y="1100.5" font-size="17.46" textLength="36.19">DEG</text>
<text lengthAdjust="spacingAndGlyphs" class="m" x="549.78" y="1100.5" font-size="17.46" textLength="11.44">F</text>
</g>
<g fill="none" stroke="#000" stroke-width="1" shape-rendering="crispEdges">
<line x1="778.5" y1="31" x2="778.5" y2="104"/>
<line x1="1186.5" y1="31" x2="1186.5" y2="104"/>
<line x1="1404.5" y1="31" x2="1404.5" y2="119.5"/>
<line x1="778.5" y1="41.5" x2="937.5" y2="41.5"/>
<line x1="1027.5" y1="41.5" x2="1250.5" y2="41.5"/>
<line x1="1340.5" y1="41.5" x2="1404.5" y2="41.5"/>
<polygon points="778.5,41.5 797.5,37.9 797.5,45.1" fill="#000" stroke="none"/>
<polygon points="1186.5,41.5 1167.5,45.1 1167.5,37.9" fill="#000" stroke="none"/>
<polygon points="1186.5,41.5 1205.5,37.9 1205.5,45.1" fill="#000" stroke="none"/>
<polygon points="1404.5,41.5 1385.5,45.1 1385.5,37.9" fill="#000" stroke="none"/>
<line x1="748" y1="61.5" x2="915.5" y2="61.5"/>
<polygon points="840.5,61.5 859.5,57.9 859.5,65.1" fill="#000" stroke="none"/>
<polygon points="915.5,61.5 896.5,65.1 896.5,57.9" fill="#000" stroke="none"/>
<line x1="840.5" y1="51" x2="840.5" y2="152.5"/>
<line x1="915.5" y1="51" x2="915.5" y2="152.5"/>
<line x1="755" y1="89.5" x2="807.5" y2="89.5"/>
<polygon points="807.5,89.5 788.5,93.1 788.5,85.9" fill="#000" stroke="none"/>
<line x1="807.5" y1="79" x2="807.5" y2="131.5"/>
<polygon points="840.5,89.5 859.5,85.9 859.5,93.1" fill="#000" stroke="none"/>
<line x1="840.5" y1="89.5" x2="882" y2="89.5"/>
<line x1="567" y1="109.5" x2="774" y2="109.5"/>
<line x1="567" y1="294.5" x2="774" y2="294.5"/>
<line x1="577.5" y1="110" x2="577.5" y2="185"/>
<line x1="577.5" y1="218" x2="577.5" y2="294"/>
<polygon points="577.5,109.5 581.1,128.5 573.9,128.5" fill="#000" stroke="none"/>
<polygon points="577.5,294.5 573.9,275.5 581.1,275.5" fill="#000" stroke="none"/>
<line x1="671" y1="157.5" x2="835.5" y2="157.5"/>
<line x1="671" y1="245.5" x2="835.5" y2="245.5"/>
<line x1="681.5" y1="158" x2="681.5" y2="186"/>
<polygon points="681.5,157.5 685.1,176.5 677.9,176.5" fill="#000" stroke="none"/>
<line x1="681.5" y1="218" x2="681.5" y2="245"/>
<polygon points="681.5,245.5 677.9,226.5 685.1,226.5" fill="#000" stroke="none"/>
<line x1="732.5" y1="204" x2="732.5" y2="245"/>
<polygon points="732.5,245.5 728.9,226.5 736.1,226.5" fill="#000" stroke="none"/>
<polygon points="732.5,271.5 736.1,290.5 728.9,290.5" fill="#000" stroke="none"/>
<line x1="732.5" y1="271.5" x2="732.5" y2="312.5"/>
<line x1="722" y1="271.5" x2="802.5" y2="271.5"/>
<line x1="778" y1="109.5" x2="977" y2="109.5"/>
<line x1="778" y1="112.5" x2="977" y2="112.5"/>
<line x1="778.5" y1="109" x2="778.5" y2="294"/>
<line x1="777.5" y1="112" x2="777.5" y2="127.5" stroke-width="2"/>
<line x1="777.5" y1="275" x2="777.5" y2="292" stroke-width="2"/>
<line x1="977.25" y1="109" x2="977.25" y2="294" stroke-width="2.5"/>
<line x1="777" y1="291" x2="977" y2="291" stroke-width="2"/>
<line x1="778" y1="294" x2="977" y2="294"/>
<line x1="807.5" y1="131.5" x2="947.5" y2="131.5" stroke-dasharray="15.65 6.2 14.3 6.2 14.3 6.2 14.3 6.2 14.3 6.2 14.3 6.2 15.65 0"/>
<line x1="807.5" y1="270.5" x2="947.5" y2="270.5" stroke-dasharray="15.65 6.2 14.3 6.2 14.3 6.2 14.3 6.2 14.3 6.2 14.3 6.2 15.65 0"/>
<line x1="807.5" y1="131.5" x2="807.5" y2="270.5" stroke-dasharray="15.15 6.2 14.3 6.2 14.3 6.2 14.3 6.2 14.3 6.2 14.3 6.2 15.15 0"/>
<line x1="947.5" y1="131.5" x2="947.5" y2="270.5" stroke-dasharray="15.15 6.2 14.3 6.2 14.3 6.2 14.3 6.2 14.3 6.2 14.3 6.2 15.15 0"/>
<line x1="840.5" y1="157.5" x2="915.5" y2="157.5" stroke-dasharray="13.9 6.2 14.3 6.2 14.3 6.2 13.9 0"/>
<line x1="840.5" y1="245.5" x2="915.5" y2="245.5" stroke-dasharray="13.9 6.2 14.3 6.2 14.3 6.2 13.9 0"/>
<line x1="840.5" y1="157.5" x2="840.5" y2="245.5" stroke-dasharray="10.15 6.2 14.3 6.2 14.3 6.2 14.3 6.2 10.15 0"/>
<line x1="915.5" y1="157.5" x2="915.5" y2="245.5" stroke-dasharray="10.15 6.2 14.3 6.2 14.3 6.2 14.3 6.2 10.15 0"/>
<polyline points="1025,60.5 1003.75,60.5 940,131.75"/>
<polygon points="940,131.75 949.99,115.19 955.35,119.99" fill="#000" stroke="none"/>
<rect x="978.5" y="108.5" width="208" height="181"/>
<line x1="978.5" y1="294" x2="1186.5" y2="294"/>
<line x1="1027.5" y1="109" x2="1027.5" y2="139"/>
<polygon points="1027.5,108.5 1031.1,127.5 1023.9,127.5" fill="#000" stroke="none"/>
<line x1="1027.5" y1="172" x2="1027.5" y2="199"/>
<polygon points="1027.5,199.5 1023.9,180.5 1031.1,180.5" fill="#000" stroke="none"/>
<line x1="1017" y1="199.5" x2="1078" y2="199.5"/>
<line x1="1081.5" y1="204" x2="1081.5" y2="344"/>
<polyline points="1210,76.5 1195,76.5 1083.75,192.5"/>
<polygon points="1083.75,192.5 1094.3,176.3 1099.5,181.28" fill="#000" stroke="none"/>
<polygon points="990,253.75 1005.5,246.25 1005.5,250.75 1046.75,250.75 1046.75,256.75 1005.5,256.75 1005.5,261.25" fill="#000" stroke="none"/>
<line x1="1157" y1="268.5" x2="1472" y2="268.5"/>
<line x1="1154.5" y1="271" x2="1154.5" y2="321"/>
<polyline points="1421.25,142.5 1407.5,142.5 1156.25,263.75"/>
<polygon points="1156.25,263.75 1171.8,252.25 1174.93,258.73" fill="#000" stroke="none"/>
<line x1="1513" y1="137.45" x2="1513" y2="146.95"/>
<line x1="1508.75" y1="139.35" x2="1517.25" y2="145.05"/>
<line x1="1508.75" y1="145.05" x2="1517.25" y2="139.35"/>
<line x1="1523.8" y1="137.45" x2="1523.8" y2="146.95"/>
<line x1="1519.55" y1="139.35" x2="1528.05" y2="145.05"/>
<line x1="1519.55" y1="145.05" x2="1528.05" y2="139.35"/>
<line x1="1534" y1="137.45" x2="1534" y2="146.95"/>
<line x1="1529.75" y1="139.35" x2="1538.25" y2="145.05"/>
<line x1="1529.75" y1="145.05" x2="1538.25" y2="139.35"/>
<line x1="1190" y1="120.5" x2="1400.5" y2="120.5"/>
<line x1="1186.5" y1="124.5" x2="1400.5" y2="124.5"/>
<line x1="1190.5" y1="120.5" x2="1190.5" y2="124.5"/>
<line x1="1400.5" y1="120.5" x2="1400.5" y2="278.5"/>
<line x1="1186.5" y1="274.5" x2="1400.5" y2="274.5"/>
<line x1="1190" y1="278.5" x2="1400.5" y2="278.5"/>
<line x1="1190.5" y1="274.5" x2="1190.5" y2="278.5"/>
<rect x="1397.5" y="120.5" width="3" height="4"/>
<rect x="1400.5" y="124.5" width="4" height="3"/>
<rect x="1400.5" y="188.75" width="4" height="3"/>
<rect x="1400.5" y="206.25" width="4" height="3"/>
<rect x="1400.5" y="271.5" width="4" height="3"/>
<line x1="1461.5" y1="227" x2="1461.5" y2="268"/>
<polygon points="1461.5,268.5 1457.9,249.5 1465.1,249.5" fill="#000" stroke="none"/>
<line x1="1186.5" y1="294.5" x2="1472" y2="294.5"/>
<polygon points="1461.5,294.5 1465.1,313.5 1457.9,313.5" fill="#000" stroke="none"/>
<line x1="1461.5" y1="294.5" x2="1461.5" y2="335.5"/>
<line x1="1113" y1="311.5" x2="1154.5" y2="311.5"/>
<polygon points="1154.5,311.5 1135.5,315.1 1135.5,307.9" fill="#000" stroke="none"/>
<polygon points="1186.5,311.5 1205.5,307.9 1205.5,315.1" fill="#000" stroke="none"/>
<line x1="1186.5" y1="311.5" x2="1236.75" y2="311.5"/>
<line x1="1186.5" y1="294" x2="1186.5" y2="344"/>
<line x1="1052.5" y1="333.5" x2="1186.5" y2="333.5"/>
<polygon points="1081.5,333.5 1100.5,329.9 1100.5,337.1" fill="#000" stroke="none"/>
<polygon points="1186.5,333.5 1167.5,337.1 1167.5,329.9" fill="#000" stroke="none"/>
<polyline points="827.5,318.5 843.75,318.5 862,272"/>
<polygon points="862,272 858.41,291 851.71,288.37" fill="#000" stroke="none"/>
<polyline points="913,357.5 898.75,357.5 877,247.5"/>
<polygon points="877,247.5 884.22,265.44 877.15,266.84" fill="#000" stroke="none"/>
<polyline points="1038.75,377.5 1023.75,377.5 962,478.75"/>
<polygon points="962,478.75 968.82,460.65 974.97,464.4" fill="#000" stroke="none"/>
<line x1="778" y1="411" x2="778" y2="434" stroke-width="2"/>
<line x1="1186.5" y1="411" x2="1186.5" y2="434"/>
<line x1="778" y1="422.5" x2="1186.5" y2="422.5" stroke-width="2"/>
<line x1="778" y1="430" x2="1186.5" y2="430" stroke-width="1.5"/>
<line x1="778" y1="432.5" x2="1186.5" y2="432.5"/>
<line x1="778.5" y1="437.5" x2="1397" y2="437.5"/>
<line x1="778.5" y1="434" x2="778.5" y2="604"/>
<line x1="795.5" y1="437.5" x2="795.5" y2="585" stroke-width="2"/>
<line x1="948.5" y1="437.5" x2="948.5" y2="585" stroke-width="2"/>
<line x1="795.5" y1="584.5" x2="948.5" y2="584.5" stroke-width="2"/>
<line x1="976.5" y1="422" x2="976.5" y2="604.5" stroke-width="2"/>
<line x1="979" y1="437" x2="979" y2="604"/>
<line x1="1000" y1="437.5" x2="1000" y2="585" stroke-width="2"/>
<line x1="1000" y1="584.5" x2="1163.5" y2="584.5" stroke-width="1.5"/>
<line x1="1163.5" y1="437.5" x2="1163.5" y2="585"/>
<line x1="1185.5" y1="433" x2="1185.5" y2="570.5"/>
<rect x="778.5" y="587.5" width="198" height="17"/>
<rect x="780.5" y="589.5" width="194" height="13"/>
<rect x="977.5" y="587.5" width="195" height="17"/>
<line x1="977.5" y1="589.5" x2="1172.5" y2="589.5"/>
<line x1="977.5" y1="602.5" x2="1172.5" y2="602.5"/>
<line x1="807.5" y1="604" x2="807.5" y2="657"/>
<line x1="947.5" y1="604" x2="947.5" y2="657"/>
<line x1="798.25" y1="657.5" x2="956.75" y2="657.5"/>
<rect x="1172.5" y="570.5" width="13" height="82"/>
<rect x="1157.5" y="652.5" width="29" height="5"/>
<rect x="1178.5" y="575" width="1" height="1" fill="#000" stroke="none"/>
<rect x="1178.5" y="581.5" width="1" height="1" fill="#000" stroke="none"/>
<rect x="1178.5" y="588" width="1" height="1" fill="#000" stroke="none"/>
<rect x="1178.5" y="594.5" width="1" height="1" fill="#000" stroke="none"/>
<rect x="1178.5" y="601" width="1" height="1" fill="#000" stroke="none"/>
<rect x="1178.5" y="607.5" width="1" height="1" fill="#000" stroke="none"/>
<rect x="1178.5" y="614" width="1" height="1" fill="#000" stroke="none"/>
<rect x="1178.5" y="620.5" width="1" height="1" fill="#000" stroke="none"/>
<rect x="1178.5" y="627" width="1" height="1" fill="#000" stroke="none"/>
<rect x="1178.5" y="633.5" width="1" height="1" fill="#000" stroke="none"/>
<rect x="1178.5" y="640" width="1" height="1" fill="#000" stroke="none"/>
<rect x="1178.5" y="646.5" width="1" height="1" fill="#000" stroke="none"/>
<rect x="1078" y="586.5" width="7" height="7"/>
<line x1="1081.5" y1="584.5" x2="1081.5" y2="598.5"/>
<rect x="1152" y="586.5" width="7" height="7"/>
<line x1="1155.5" y1="584.5" x2="1155.5" y2="598.5"/>
<rect x="785" y="425" width="1" height="1" fill="#000" stroke="none"/>
<rect x="831.25" y="425" width="1" height="1" fill="#000" stroke="none"/>
<rect x="877.5" y="425" width="1" height="1" fill="#000" stroke="none"/>
<rect x="923.75" y="425" width="1" height="1" fill="#000" stroke="none"/>
<rect x="970" y="425" width="1" height="1" fill="#000" stroke="none"/>
<rect x="985" y="425" width="1" height="1" fill="#000" stroke="none"/>
<rect x="1033.75" y="425" width="1" height="1" fill="#000" stroke="none"/>
<rect x="1081.25" y="425" width="1" height="1" fill="#000" stroke="none"/>
<rect x="1128.75" y="425" width="1" height="1" fill="#000" stroke="none"/>
<rect x="1178.75" y="425" width="1" height="1" fill="#000" stroke="none"/>
<rect x="786" y="428" width="1" height="1" fill="#000" stroke="none"/>
<rect x="794" y="428" width="1" height="1" fill="#000" stroke="none"/>
<rect x="962" y="428" width="1" height="1" fill="#000" stroke="none"/>
<rect x="1011" y="428" width="1" height="1" fill="#000" stroke="none"/>
<rect x="1021" y="428" width="1" height="1" fill="#000" stroke="none"/>
<rect x="1167" y="428" width="1" height="1" fill="#000" stroke="none"/>
<rect x="1179" y="428" width="1" height="1" fill="#000" stroke="none"/>
<rect x="800" y="573" width="1" height="1" fill="#000" stroke="none"/>
<rect x="805" y="573" width="1" height="1" fill="#000" stroke="none"/>
<rect x="942" y="573" width="1" height="1" fill="#000" stroke="none"/>
<rect x="947" y="573" width="1" height="1" fill="#000" stroke="none"/>
<rect x="1028" y="573" width="1" height="1" fill="#000" stroke="none"/>
<rect x="1067" y="573" width="1" height="1" fill="#000" stroke="none"/>
<rect x="1106" y="573" width="1" height="1" fill="#000" stroke="none"/>
<rect x="1146" y="573" width="1" height="1" fill="#000" stroke="none"/>
<rect x="786" y="595" width="1" height="1" fill="#000" stroke="none"/>
<rect x="808" y="595" width="1" height="1" fill="#000" stroke="none"/>
<rect x="947" y="595" width="1" height="1" fill="#000" stroke="none"/>
<rect x="971" y="595" width="1" height="1" fill="#000" stroke="none"/>
<rect x="985" y="595" width="1" height="1" fill="#000" stroke="none"/>
<rect x="992" y="595" width="1" height="1" fill="#000" stroke="none"/>
<rect x="1170" y="595" width="1" height="1" fill="#000" stroke="none"/>
<rect x="951.5" y="480.5" width="22" height="14" stroke-width="1.5"/>
<line x1="958" y1="483.5" x2="967" y2="483.5"/>
<line x1="1191" y1="571.6" x2="1399" y2="434.4" stroke-width="2"/>
<line x1="1195.6" y1="580" x2="1404.6" y2="442.4"/>
<line x1="1191" y1="571.6" x2="1195.6" y2="580"/>
<line x1="1399" y1="434.4" x2="1404.6" y2="442.4"/>
<line x1="1185.5" y1="572.5" x2="1191" y2="572.5"/>
<line x1="682" y1="422.5" x2="774" y2="422.5"/>
<line x1="682" y1="604.5" x2="774" y2="604.5"/>
<line x1="692.5" y1="422" x2="692.5" y2="486"/>
<polygon points="692.5,422.5 696.1,441.5 688.9,441.5" fill="#000" stroke="none"/>
<line x1="692.5" y1="519" x2="692.5" y2="604"/>
<polygon points="692.5,604.5 688.9,585.5 696.1,585.5" fill="#000" stroke="none"/>
<line x1="807.5" y1="662" x2="807.5" y2="684.5"/>
<line x1="947.5" y1="662" x2="947.5" y2="684.5"/>
<line x1="766" y1="674.5" x2="807.5" y2="674.5"/>
<polygon points="807.5,674.5 788.5,678.1 788.5,670.9" fill="#000" stroke="none"/>
<polygon points="947.5,674.5 966.5,670.9 966.5,678.1" fill="#000" stroke="none"/>
<line x1="947.5" y1="674.5" x2="988.75" y2="674.5"/>
<polyline points="483.75,354.5 463.75,354.5 437,410.5"/>
<polygon points="437,410.5 441.94,391.8 448.44,394.91" fill="#000" stroke="none"/>
<path d="M250.75 434.5V414.5Q250.75 411.5 253.75 411.5H263.75Q266.75 411.5 266.75 414.5V434.5Z"/>
<path d="M420 434.5V414.5Q420 411.5 423 411.5H433Q436 411.5 436 414.5V434.5Z"/>
<rect x="247.5" y="432.5" width="3" height="6"/>
<rect x="436.5" y="432.5" width="3" height="6"/>
<line x1="266.75" y1="423" x2="420" y2="423" stroke-width="2"/>
<line x1="266.75" y1="428.5" x2="420" y2="428.5"/>
<line x1="251" y1="434" x2="251" y2="585.5" stroke-width="1.5"/>
<line x1="436" y1="434" x2="436" y2="585.5" stroke-width="1.5"/>
<line x1="248.5" y1="585.5" x2="439" y2="585.5" stroke-width="2"/>
<rect x="251.5" y="585.5" width="184" height="19"/>
<line x1="260" y1="585.5" x2="260" y2="604.5" stroke-width="1.5"/>
<line x1="426.5" y1="585.5" x2="426.5" y2="604.5" stroke-width="1.5"/>
<line x1="260" y1="588.5" x2="426.5" y2="588.5"/>
<line x1="260" y1="602.5" x2="426.5" y2="602.5"/>
<rect x="289.5" y="425" width="1" height="1" fill="#000" stroke="none"/>
<rect x="289.5" y="583" width="1" height="1" fill="#000" stroke="none"/>
<rect x="325.5" y="425" width="1" height="1" fill="#000" stroke="none"/>
<rect x="325.5" y="583" width="1" height="1" fill="#000" stroke="none"/>
<rect x="361.5" y="425" width="1" height="1" fill="#000" stroke="none"/>
<rect x="361.5" y="583" width="1" height="1" fill="#000" stroke="none"/>
<rect x="397.5" y="425" width="1" height="1" fill="#000" stroke="none"/>
<rect x="397.5" y="583" width="1" height="1" fill="#000" stroke="none"/>
<rect x="254.5" y="583" width="1" height="1" fill="#000" stroke="none"/>
<rect x="432" y="583" width="1" height="1" fill="#000" stroke="none"/>
<rect x="255.5" y="592" width="1" height="1" fill="#000" stroke="none"/>
<rect x="255.5" y="599" width="1" height="1" fill="#000" stroke="none"/>
<rect x="430.5" y="592" width="1" height="1" fill="#000" stroke="none"/>
<rect x="430.5" y="599" width="1" height="1" fill="#000" stroke="none"/>
<rect x="258.5" y="430.5" width="1" height="1" fill="#000" stroke="none"/>
<rect x="427.5" y="430.5" width="1" height="1" fill="#000" stroke="none"/>
<rect x="436.5" y="482.5" width="4" height="14"/>
<line x1="273.5" y1="604.5" x2="273.5" y2="657"/>
<line x1="413.5" y1="604.5" x2="413.5" y2="657"/>
<line x1="263.75" y1="656.5" x2="422.5" y2="656.5"/>
<line x1="273.5" y1="656.5" x2="413.5" y2="656.5" stroke-width="2"/>
<line x1="441" y1="423.5" x2="517" y2="423.5"/>
<line x1="506.5" y1="423.5" x2="506.5" y2="486"/>
<polygon points="506.5,423.5 510.1,442.5 502.9,442.5" fill="#000" stroke="none"/>
<line x1="506.5" y1="519" x2="506.5" y2="585.5"/>
<polygon points="506.5,585.5 502.9,566.5 510.1,566.5" fill="#000" stroke="none"/>
<line x1="443" y1="585.5" x2="565" y2="585.5"/>
<line x1="440" y1="604.5" x2="565" y2="604.5"/>
<line x1="554.5" y1="544" x2="554.5" y2="585"/>
<polygon points="554.5,585.5 550.9,566.5 558.1,566.5" fill="#000" stroke="none"/>
<polygon points="554.5,604.5 558.1,623.5 550.9,623.5" fill="#000" stroke="none"/>
<polyline points="554.5,604.5 554.5,645.5 534,645.5"/>
<line x1="273.5" y1="662" x2="273.5" y2="684.5"/>
<line x1="413.5" y1="662" x2="413.5" y2="684.5"/>
<line x1="232.5" y1="674.5" x2="273.5" y2="674.5"/>
<polygon points="273.5,674.5 254.5,678.1 254.5,670.9" fill="#000" stroke="none"/>
<polygon points="413.5,674.5 432.5,670.9 432.5,678.1" fill="#000" stroke="none"/>
<line x1="413.5" y1="674.5" x2="454.5" y2="674.5"/>
<polyline points="226.75,665.5 238.25,665.5 272,635"/>
<polygon points="272,635 260.32,650.41 255.49,645.07" fill="#000" stroke="none"/>
<rect x="534.5" y="727.5" width="1.5" height="1.5" fill="#000" stroke="none"/>
<line x1="0" y1="739.5" x2="1264" y2="739.5"/>
<line x1="0" y1="757.5" x2="1264" y2="757.5"/>
<line x1="0" y1="775.5" x2="1264" y2="775.5"/>
<line x1="0" y1="793.5" x2="1264" y2="793.5"/>
<line x1="0" y1="811.5" x2="1264" y2="811.5"/>
<line x1="0" y1="829.5" x2="1264" y2="829.5"/>
<line x1="0" y1="847.5" x2="1264" y2="847.5"/>
<line x1="0" y1="865.5" x2="1264" y2="865.5"/>
<line x1="0" y1="884.5" x2="1264" y2="884.5"/>
<line x1="0.5" y1="739" x2="0.5" y2="885"/>
<line x1="114.5" y1="739" x2="114.5" y2="885"/>
<line x1="202.5" y1="757.5" x2="202.5" y2="885"/>
<line x1="288.5" y1="757.5" x2="288.5" y2="885"/>
<line x1="366.5" y1="757.5" x2="366.5" y2="885"/>
<line x1="442.5" y1="757.5" x2="442.5" y2="885"/>
<line x1="503.5" y1="757.5" x2="503.5" y2="885"/>
<line x1="576.5" y1="757.5" x2="576.5" y2="885"/>
<line x1="645.5" y1="739" x2="645.5" y2="885"/>
<line x1="721.5" y1="757.5" x2="721.5" y2="885"/>
<line x1="800.5" y1="757.5" x2="800.5" y2="885"/>
<line x1="882.5" y1="757.5" x2="882.5" y2="885"/>
<line x1="971.5" y1="739" x2="971.5" y2="885"/>
<line x1="1039.5" y1="757.5" x2="1039.5" y2="885"/>
<line x1="1116.5" y1="739" x2="1116.5" y2="885"/>
<line x1="1195.5" y1="757.5" x2="1195.5" y2="885"/>
<line x1="1263.5" y1="739" x2="1263.5" y2="885"/>
<line x1="58.75" y1="797.4" x2="58.75" y2="807.4"/>
<line x1="54.25" y1="799.4" x2="63.25" y2="805.4"/>
<line x1="54.25" y1="805.4" x2="63.25" y2="799.4"/>
<line x1="69" y1="797.4" x2="69" y2="807.4"/>
<line x1="64.5" y1="799.4" x2="73.5" y2="805.4"/>
<line x1="64.5" y1="805.4" x2="73.5" y2="799.4"/>
<line x1="0" y1="913.5" x2="483" y2="913.5"/>
<line x1="487" y1="913.5" x2="1042" y2="913.5"/>
<line x1="1045" y1="913.5" x2="1600" y2="913.5"/>
<line x1="0" y1="949.5" x2="483" y2="949.5"/>
<line x1="487" y1="949.5" x2="1042" y2="949.5"/>
<line x1="1045" y1="949.5" x2="1600" y2="949.5"/>
<line x1="0" y1="968.5" x2="483" y2="968.5"/>
<line x1="487" y1="968.5" x2="1042" y2="968.5"/>
<line x1="1045" y1="968.5" x2="1600" y2="968.5"/>
<line x1="0" y1="986.5" x2="483" y2="986.5"/>
<line x1="487" y1="986.5" x2="1042" y2="986.5"/>
<line x1="1045" y1="986.5" x2="1600" y2="986.5"/>
<line x1="0" y1="1004.5" x2="483" y2="1004.5"/>
<line x1="487" y1="1004.5" x2="1042" y2="1004.5"/>
<line x1="1045" y1="1004.5" x2="1600" y2="1004.5"/>
<line x1="0" y1="1022.5" x2="483" y2="1022.5"/>
<line x1="487" y1="1022.5" x2="1042" y2="1022.5"/>
<line x1="1045" y1="1022.5" x2="1600" y2="1022.5"/>
<line x1="0" y1="1040.5" x2="483" y2="1040.5"/>
<line x1="487" y1="1040.5" x2="1042" y2="1040.5"/>
<line x1="1045" y1="1040.5" x2="1600" y2="1040.5"/>
<line x1="0" y1="1058.5" x2="483" y2="1058.5"/>
<line x1="487" y1="1058.5" x2="1042" y2="1058.5"/>
<line x1="1045" y1="1058.5" x2="1600" y2="1058.5"/>
<line x1="487" y1="932" x2="1042" y2="932"/>
<line x1="1045" y1="932" x2="1600" y2="932"/>
<line x1="0.5" y1="913" x2="0.5" y2="1059"/>
<line x1="114.5" y1="913" x2="114.5" y2="1059"/>
<line x1="265.5" y1="913" x2="265.5" y2="1059"/>
<line x1="482.5" y1="913" x2="482.5" y2="1059"/>
<line x1="487.5" y1="913" x2="487.5" y2="1059"/>
<line x1="583.5" y1="932" x2="583.5" y2="1059"/>
<line x1="731.5" y1="932" x2="731.5" y2="1059"/>
<line x1="852.5" y1="932" x2="852.5" y2="1059"/>
<line x1="914.5" y1="932" x2="914.5" y2="1059"/>
<line x1="1041.5" y1="913" x2="1041.5" y2="1059"/>
<line x1="1045.5" y1="913" x2="1045.5" y2="1059"/>
<line x1="1141.5" y1="932" x2="1141.5" y2="1059"/>
<line x1="1289.5" y1="932" x2="1289.5" y2="1059"/>
<line x1="1410.5" y1="932" x2="1410.5" y2="1059"/>
<line x1="1472.5" y1="932" x2="1472.5" y2="1059"/>
<line x1="1599.5" y1="913" x2="1599.5" y2="1059"/>
<line x1="60" y1="971.9" x2="60" y2="981.9"/>
<line x1="55.5" y1="973.9" x2="64.5" y2="979.9"/>
<line x1="55.5" y1="979.9" x2="64.5" y2="973.9"/>
<line x1="70.3" y1="971.9" x2="70.3" y2="981.9"/>
<line x1="65.8" y1="973.9" x2="74.8" y2="979.9"/>
<line x1="65.8" y1="979.9" x2="74.8" y2="973.9"/>
<line x1="8" y1="1068" x2="8" y2="1078"/>
<line x1="3.25" y1="1070" x2="12.75" y2="1076"/>
<line x1="3.25" y1="1076" x2="12.75" y2="1070"/>
<line x1="19.5" y1="1068" x2="19.5" y2="1078"/>
<line x1="14.75" y1="1070" x2="24.25" y2="1076"/>
<line x1="14.75" y1="1076" x2="24.25" y2="1070"/>
<line x1="7.5" y1="1090" x2="7.5" y2="1100"/>
<line x1="2.75" y1="1092" x2="12.25" y2="1098"/>
<line x1="2.75" y1="1098" x2="12.25" y2="1092"/>
<line x1="19" y1="1090" x2="19" y2="1100"/>
<line x1="14.25" y1="1092" x2="23.75" y2="1098"/>
<line x1="14.25" y1="1098" x2="23.75" y2="1092"/>
<line x1="30.5" y1="1090" x2="30.5" y2="1100"/>
<line x1="25.75" y1="1092" x2="35.25" y2="1098"/>
<line x1="25.75" y1="1098" x2="35.25" y2="1092"/>
</g>
<g id="logo" fill="none" stroke="#000" stroke-width="1" opacity="0.999">
<circle cx="348.6" cy="146.1" r="45.3"/>
<path d="M327.35 177.60A38 38 0 1 1 370.40 177.23"/>
<path d="M337.70 114.74A33.20 33.20 0 0 0 337.70 177.46"/>
<path d="M359.00 114.57A33.20 33.20 0 0 1 359.00 177.63"/>
<path d="M337.7 123.9Q326 130 323.9 141.4H337.7V149.5H323.3Q326 161 337.7 166.5V177.5"/>
<path d="M337.7 114.5V123.9M339.2 113.8V123.5M337.7 113.8H357.8M337.7 123.9L344.6 122"/>
<path d="M344.6 122V179H351.5V123.2H357.8"/>
<path d="M357.8 113.8V123.2" stroke-width="1.6"/>
<path d="M359 113.8V177.3M359 115.1L367.8 118.2V155.2"/>
<path d="M381.6 144.5H371.6L367.2 160.2"/>
<circle cx="376.3" cy="138.6" r="3.4" stroke-width="1.4"/>
<path d="M375.2 140.6V136.6H376.8Q377.8 137.4 376.8 138.4H375.2M376.6 138.6L377.8 140.6" stroke-width="0.8"/>
<path id="lp" d="M321.02 181.40A44.8 44.8 0 0 0 376.18 181.40" stroke="none"/>
<text lengthAdjust="spacingAndGlyphs" class="s" font-size="10.5" fill="#000" stroke="#000" stroke-width="0.25" letter-spacing="1.7"><textPath href="#lp" startOffset="51%" text-anchor="middle">LISTED</textPath></text>
<circle cx="937.5" cy="137.2" r="2.2"/>
<circle cx="937.5" cy="152.2" r="2.2"/>
<circle cx="937.5" cy="251.25" r="2.2"/>
<circle cx="937.5" cy="265" r="2.2"/>
<circle cx="1082" cy="199.5" r="4.2"/>
<circle cx="1082" cy="199.5" r="1.4"/>
<circle cx="1154.25" cy="268.25" r="2.8"/>
<circle cx="962.5" cy="488" r="3.5"/>
<circle cx="258.5" cy="418.25" r="2.8"/>
<circle cx="427.75" cy="418.25" r="2.8"/>
<circle cx="409.5" cy="569.25" r="2.1"/>
<circle cx="419.5" cy="569.25" r="2.1"/>
</g>
</svg>
</body></html>
